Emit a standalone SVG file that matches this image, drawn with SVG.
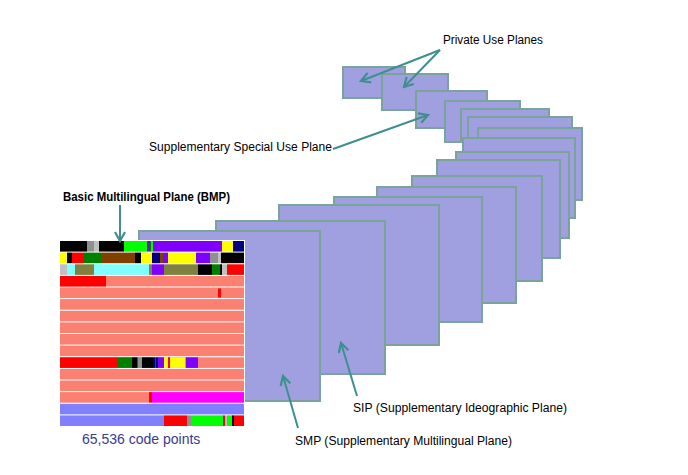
<svg xmlns="http://www.w3.org/2000/svg" width="688" height="475" viewBox="0 0 688 475">
<style>
.pl{fill:#A0A0E0;stroke:#7AA39C;stroke-width:2}
.lbl{font-family:"Liberation Sans",Arial,sans-serif;font-size:12px;fill:#000}
.ar{fill:none;stroke:#3F8F8F;stroke-width:2}
.bk{fill:#000}.gy{fill:#909090}.lg{fill:#C0C0C0}.gr{fill:#00FF00}.dg{fill:#008000}.pu{fill:#8000FF}.ye{fill:#FFFF00}.nv{fill:#000080}.rd{fill:#FF0000}.br{fill:#804000}.cy{fill:#80FFFF}.ol{fill:#808040}.sa{fill:#FA8072}.mg{fill:#FF00FF}.bl{fill:#8080FF}
</style>
<defs>
<marker id="ah" markerUnits="userSpaceOnUse" markerWidth="14" markerHeight="14" refX="10" refY="6" orient="auto">
<path d="M1,1 L10,6 L1,11" fill="none" stroke="#3F8F8F" stroke-width="2.2"/>
</marker>
</defs>
<rect width="688" height="475" fill="#fff"/>
<g id="plane16"><rect class="pl" x="343" y="67" width="62" height="31"/></g>
<g id="plane15"><rect class="pl" x="382" y="74" width="66" height="36"/></g>
<g id="plane14"><rect class="pl" x="416" y="91" width="71" height="37"/></g>
<g id="plane13"><rect class="pl" x="445" y="101" width="75" height="41"/></g>
<g id="plane12"><rect class="pl" x="461" y="109" width="88" height="31"/></g>
<g id="plane11"><rect class="pl" x="468" y="117" width="104" height="73"/></g>
<g id="plane10"><rect class="pl" x="478" y="128" width="104" height="72"/></g>
<g id="plane9"><rect class="pl" x="463" y="138" width="112" height="80"/></g>
<g id="plane8"><rect class="pl" x="456" y="152" width="113" height="86"/></g>
<g id="plane7"><rect class="pl" x="437" y="160" width="123" height="98"/></g>
<g id="plane6"><rect class="pl" x="412" y="176" width="130" height="105"/></g>
<g id="plane5"><rect class="pl" x="377" y="187" width="139" height="116"/></g>
<g id="plane4"><rect class="pl" x="334" y="197" width="148" height="125"/></g>
<g id="plane3"><rect class="pl" x="279" y="205" width="160" height="140"/></g>
<g id="sip"><rect class="pl" x="216" y="221" width="169" height="153"/></g>
<g id="smp"><rect class="pl" x="139" y="231" width="181" height="170"/></g>
<g id="bmp">
<rect x="59" y="240" width="186" height="188" fill="#fff"/>
<g id="row0">
<rect class="bk" x="60" y="241" width="27" height="10.6"/><rect class="gy" x="87" y="241" width="7" height="10.6"/><rect class="lg" x="94" y="241" width="5" height="10.6"/><rect class="bk" x="99" y="241" width="25" height="10.6"/><rect class="gr" x="124" y="241" width="23" height="10.6"/><rect class="pu" x="147" y="241" width="3" height="10.6"/><rect class="dg" x="150" y="241" width="1" height="10.6"/><rect class="gr" x="151" y="241" width="2" height="10.6"/><rect class="pu" x="153" y="241" width="69" height="10.6"/><rect class="ye" x="222" y="241" width="11" height="10.6"/><rect class="nv" x="233" y="241" width="11" height="10.6"/>
</g>
<g id="row1">
<rect class="ye" x="60" y="252.6" width="7" height="10.6"/><rect class="bk" x="67" y="252.6" width="5" height="10.6"/><rect class="rd" x="72" y="252.6" width="11" height="10.6"/><rect class="dg" x="83" y="252.6" width="19" height="10.6"/><rect class="br" x="102" y="252.6" width="33" height="10.6"/><rect class="bk" x="135" y="252.6" width="6" height="10.6"/><rect class="ye" x="141" y="252.6" width="11" height="10.6"/><rect class="nv" x="152" y="252.6" width="8" height="10.6"/><rect class="br" x="160" y="252.6" width="3" height="10.6"/><rect class="pu" x="163" y="252.6" width="5" height="10.6"/><rect class="ye" x="168" y="252.6" width="28" height="10.6"/><rect class="pu" x="196" y="252.6" width="14" height="10.6"/><rect class="gy" x="210" y="252.6" width="8" height="10.6"/><rect class="lg" x="218" y="252.6" width="3" height="10.6"/><rect class="bk" x="221" y="252.6" width="23" height="10.6"/>
</g>
<g id="row2">
<rect class="lg" x="60" y="264.3" width="7" height="10.6"/><rect class="cy" x="67" y="264.3" width="8" height="10.6"/><rect class="ol" x="75" y="264.3" width="19" height="10.6"/><rect class="cy" x="94" y="264.3" width="55" height="10.6"/><rect class="ol" x="149" y="264.3" width="3" height="10.6"/><rect class="pu" x="152" y="264.3" width="12" height="10.6"/><rect class="ol" x="164" y="264.3" width="34" height="10.6"/><rect class="bk" x="198" y="264.3" width="14" height="10.6"/><rect class="dg" x="212" y="264.3" width="8" height="10.6"/><rect class="bk" x="220" y="264.3" width="2" height="10.6"/><rect class="lg" x="222" y="264.3" width="5" height="10.6"/><rect class="rd" x="227" y="264.3" width="17" height="10.6"/>
</g>
<g id="row3"><rect class="sa" x="60" y="275.9" width="184" height="10.6"/><rect class="rd" x="60" y="275.9" width="46" height="10.6"/></g>
<g id="row4"><rect class="sa" x="60" y="287.5" width="184" height="10.6"/><rect class="rd" x="218" y="288.5" width="3" height="9"/></g>
<rect class="sa" x="60" y="299.1" width="184" height="10.6"/>
<rect class="sa" x="60" y="310.8" width="184" height="10.6"/>
<rect class="sa" x="60" y="322.4" width="184" height="10.6"/>
<rect class="sa" x="60" y="334" width="184" height="10.6"/>
<rect class="sa" x="60" y="345.6" width="184" height="10.6"/>
<g id="row10">
<rect class="sa" x="60" y="357.3" width="184" height="10.6"/><rect class="rd" x="60" y="357.3" width="57" height="10.6"/><rect class="dg" x="117" y="357.3" width="15" height="10.6"/><rect class="bk" x="132" y="357.3" width="5" height="10.6"/><rect class="dg" x="137" y="357.3" width="1" height="10.6"/><rect class="gy" x="138" y="357.3" width="4" height="10.6"/><rect class="bk" x="142" y="357.3" width="11" height="10.6"/><rect class="nv" x="153" y="357.3" width="2" height="10.6"/><rect class="pu" x="155" y="357.3" width="1" height="10.6"/><rect class="nv" x="156" y="357.3" width="2" height="10.6"/><rect class="pu" x="158" y="357.3" width="6" height="10.6"/><rect class="ye" x="164" y="357.3" width="4" height="10.6"/><rect class="rd" x="168" y="357.3" width="2" height="10.6"/><rect class="ye" x="170" y="357.3" width="15" height="10.6"/><rect class="pu" x="186" y="357.3" width="12" height="10.6"/>
</g>
<rect class="sa" x="60" y="368.9" width="184" height="10.6"/>
<rect class="sa" x="60" y="380.5" width="184" height="10.6"/>
<g id="row13"><rect class="sa" x="60" y="392.1" width="89" height="10.6"/><rect class="rd" x="149" y="392.1" width="3" height="10.6"/><rect class="mg" x="152" y="392.1" width="92" height="10.6"/></g>
<rect class="bl" x="60" y="403.8" width="184" height="10.6"/>
<g id="row15">
<rect class="bl" x="60" y="415.4" width="104" height="10.6"/><rect class="rd" x="164" y="415.4" width="23" height="10.6"/><rect class="gy" x="187" y="415.4" width="4" height="10.6"/><rect class="gr" x="191" y="415.4" width="32" height="10.6"/><rect class="rd" x="223" y="415.4" width="2" height="10.6"/><rect class="lg" x="225" y="415.4" width="2" height="10.6"/><rect class="gr" x="227" y="415.4" width="5" height="10.6"/><rect class="bk" x="232" y="415.4" width="2" height="10.6"/><rect class="rd" x="234" y="415.4" width="10" height="10.6"/>
</g>
</g>
<g id="connectors">
<line class="ar" x1="440" y1="50" x2="361" y2="81" marker-end="url(#ah)"/>
<line class="ar" x1="440" y1="50" x2="404" y2="87" marker-end="url(#ah)"/>
<line class="ar" x1="333" y1="149" x2="428" y2="115" marker-end="url(#ah)"/>
<line class="ar" x1="120" y1="205" x2="120" y2="241" marker-end="url(#ah)"/>
<line class="ar" x1="357" y1="396" x2="341" y2="343" marker-end="url(#ah)"/>
<line class="ar" x1="298" y1="428" x2="283" y2="376" marker-end="url(#ah)"/>
</g>
<g id="labels">
<text class="lbl" x="443" y="44" textLength="100" lengthAdjust="spacingAndGlyphs">Private Use Planes</text>
<text class="lbl" x="149" y="151" textLength="183" lengthAdjust="spacingAndGlyphs">Supplementary Special Use Plane</text>
<text class="lbl" x="63" y="201" font-weight="bold" textLength="167" lengthAdjust="spacingAndGlyphs">Basic Multilingual Plane (BMP)</text>
<text x="82" y="444" font-family="Liberation Sans, Arial, sans-serif" font-size="14" fill="#3B3B8E">65,536 code points</text>
<text class="lbl" x="353" y="412" textLength="214" lengthAdjust="spacingAndGlyphs">SIP (Supplementary Ideographic Plane)</text>
<text class="lbl" x="295" y="445" textLength="217" lengthAdjust="spacingAndGlyphs">SMP (Supplementary Multilingual Plane)</text>
</g>
</svg>
